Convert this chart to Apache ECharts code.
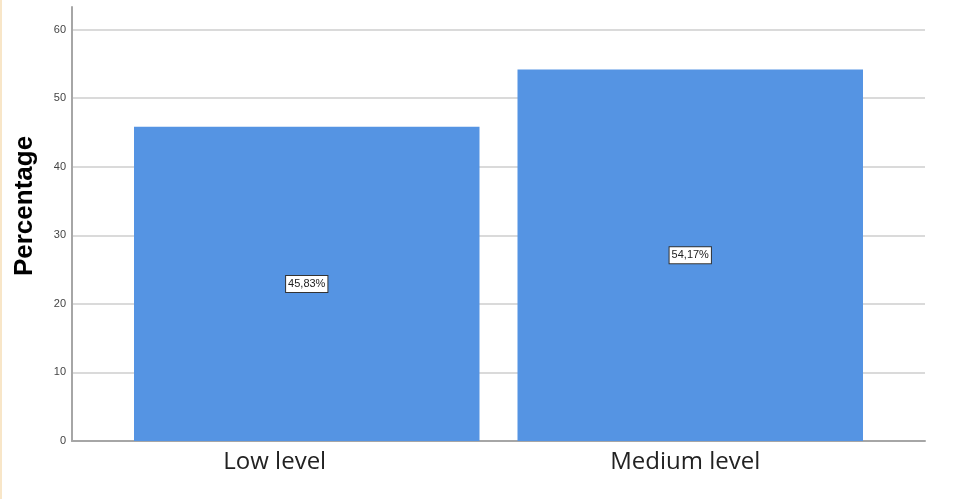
<!DOCTYPE html>
<html>
<head>
<meta charset="utf-8">
<script src="https://cdn.jsdelivr.net/npm/echarts@6/dist/echarts.min.js"></script>
<style>
html,body{margin:0;padding:0;background:#fff;}
#c{width:974px;height:499px;box-sizing:border-box;border-left:2px solid #f8e6c8;}
</style>
</head>
<body>
<div id="c"></div>
<script>
const categories = ['Low level', 'Medium level'];
const percentages = [45.83, 54.17];
const percentLabels = ['45,83%', '54,17%'];
const yTicks = [0, 10, 20, 30, 40, 50, 60];

const chart = echarts.init(document.getElementById('c'), null, {renderer: 'canvas'});
const yMax = 63.3;
chart.setOption({
  animation: false,
  grid: [
    {left: 70, right: 49, top: 7, bottom: 58, containLabel: false, outerBoundsMode: 'none'},
    {left: 113, right: 92, top: 7, bottom: 58, containLabel: false, outerBoundsMode: 'none'}
  ],
  xAxis: [
    {gridIndex: 0, type: 'value', min: 0, max: 1,
      axisLine: {show: true, onZero: false, lineStyle: {color: '#a6a6a6', width: 2}},
      axisTick: {show: false}, axisLabel: {show: false}, splitLine: {show: false}},
    {gridIndex: 1, type: 'category', data: categories,
      axisLine: {show: false}, axisTick: {show: false},
      axisLabel: {
        margin: 9,
        formatter: function (v, i) { return i === 0 ? '{a|' + v + '}' : '{b|' + v + '}'; },
        rich: {
          a: {fontFamily: 'Open Sans', fontSize: 24, color: '#222', padding: [0, 64, 0, 0]},
          b: {fontFamily: 'Open Sans', fontSize: 24, color: '#222', padding: [0, 10, 0, 0]}
        }
      }}
  ],
  yAxis: [
    {gridIndex: 0, type: 'value', min: 0, max: yMax, interval: 10,
      name: 'Percentage', nameLocation: 'middle', nameGap: 34, nameRotate: 90,
      nameTextStyle: {fontFamily: 'Liberation Sans', fontWeight: 'bold', fontSize: 26, color: '#000',
        padding: [0, 0, 0, 36]},
      axisLine: {show: true, lineStyle: {color: '#a6a6a6', width: 2}},
      axisTick: {show: false},
      axisLabel: {showMaxLabel: false, margin: 6, fontFamily: 'Liberation Sans', fontSize: 11, color: '#444',
        formatter: function (v) { return yTicks.indexOf(v) >= 0 ? String(v) : ''; }},
      splitLine: {show: true, showMaxLine: false, lineStyle: {color: '#dadada', width: 2}}},
    {gridIndex: 1, type: 'value', min: 0, max: yMax, interval: 10, show: false, splitLine: {show: false}}
  ],
  series: [{
    type: 'bar', xAxisIndex: 1, yAxisIndex: 1,
    data: percentages,
    barCategoryGap: 38,
    itemStyle: {color: '#5594e3'},
    label: {
      show: true, position: 'inside',
      formatter: function (p) { return percentLabels[p.dataIndex]; },
      backgroundColor: '#fff', borderColor: '#333', borderWidth: 1,
      padding: [3, 2, 2, 2], fontFamily: 'Liberation Sans', fontSize: 11, color: '#222'
    }
  }]
});
</script>
</body>
</html>
